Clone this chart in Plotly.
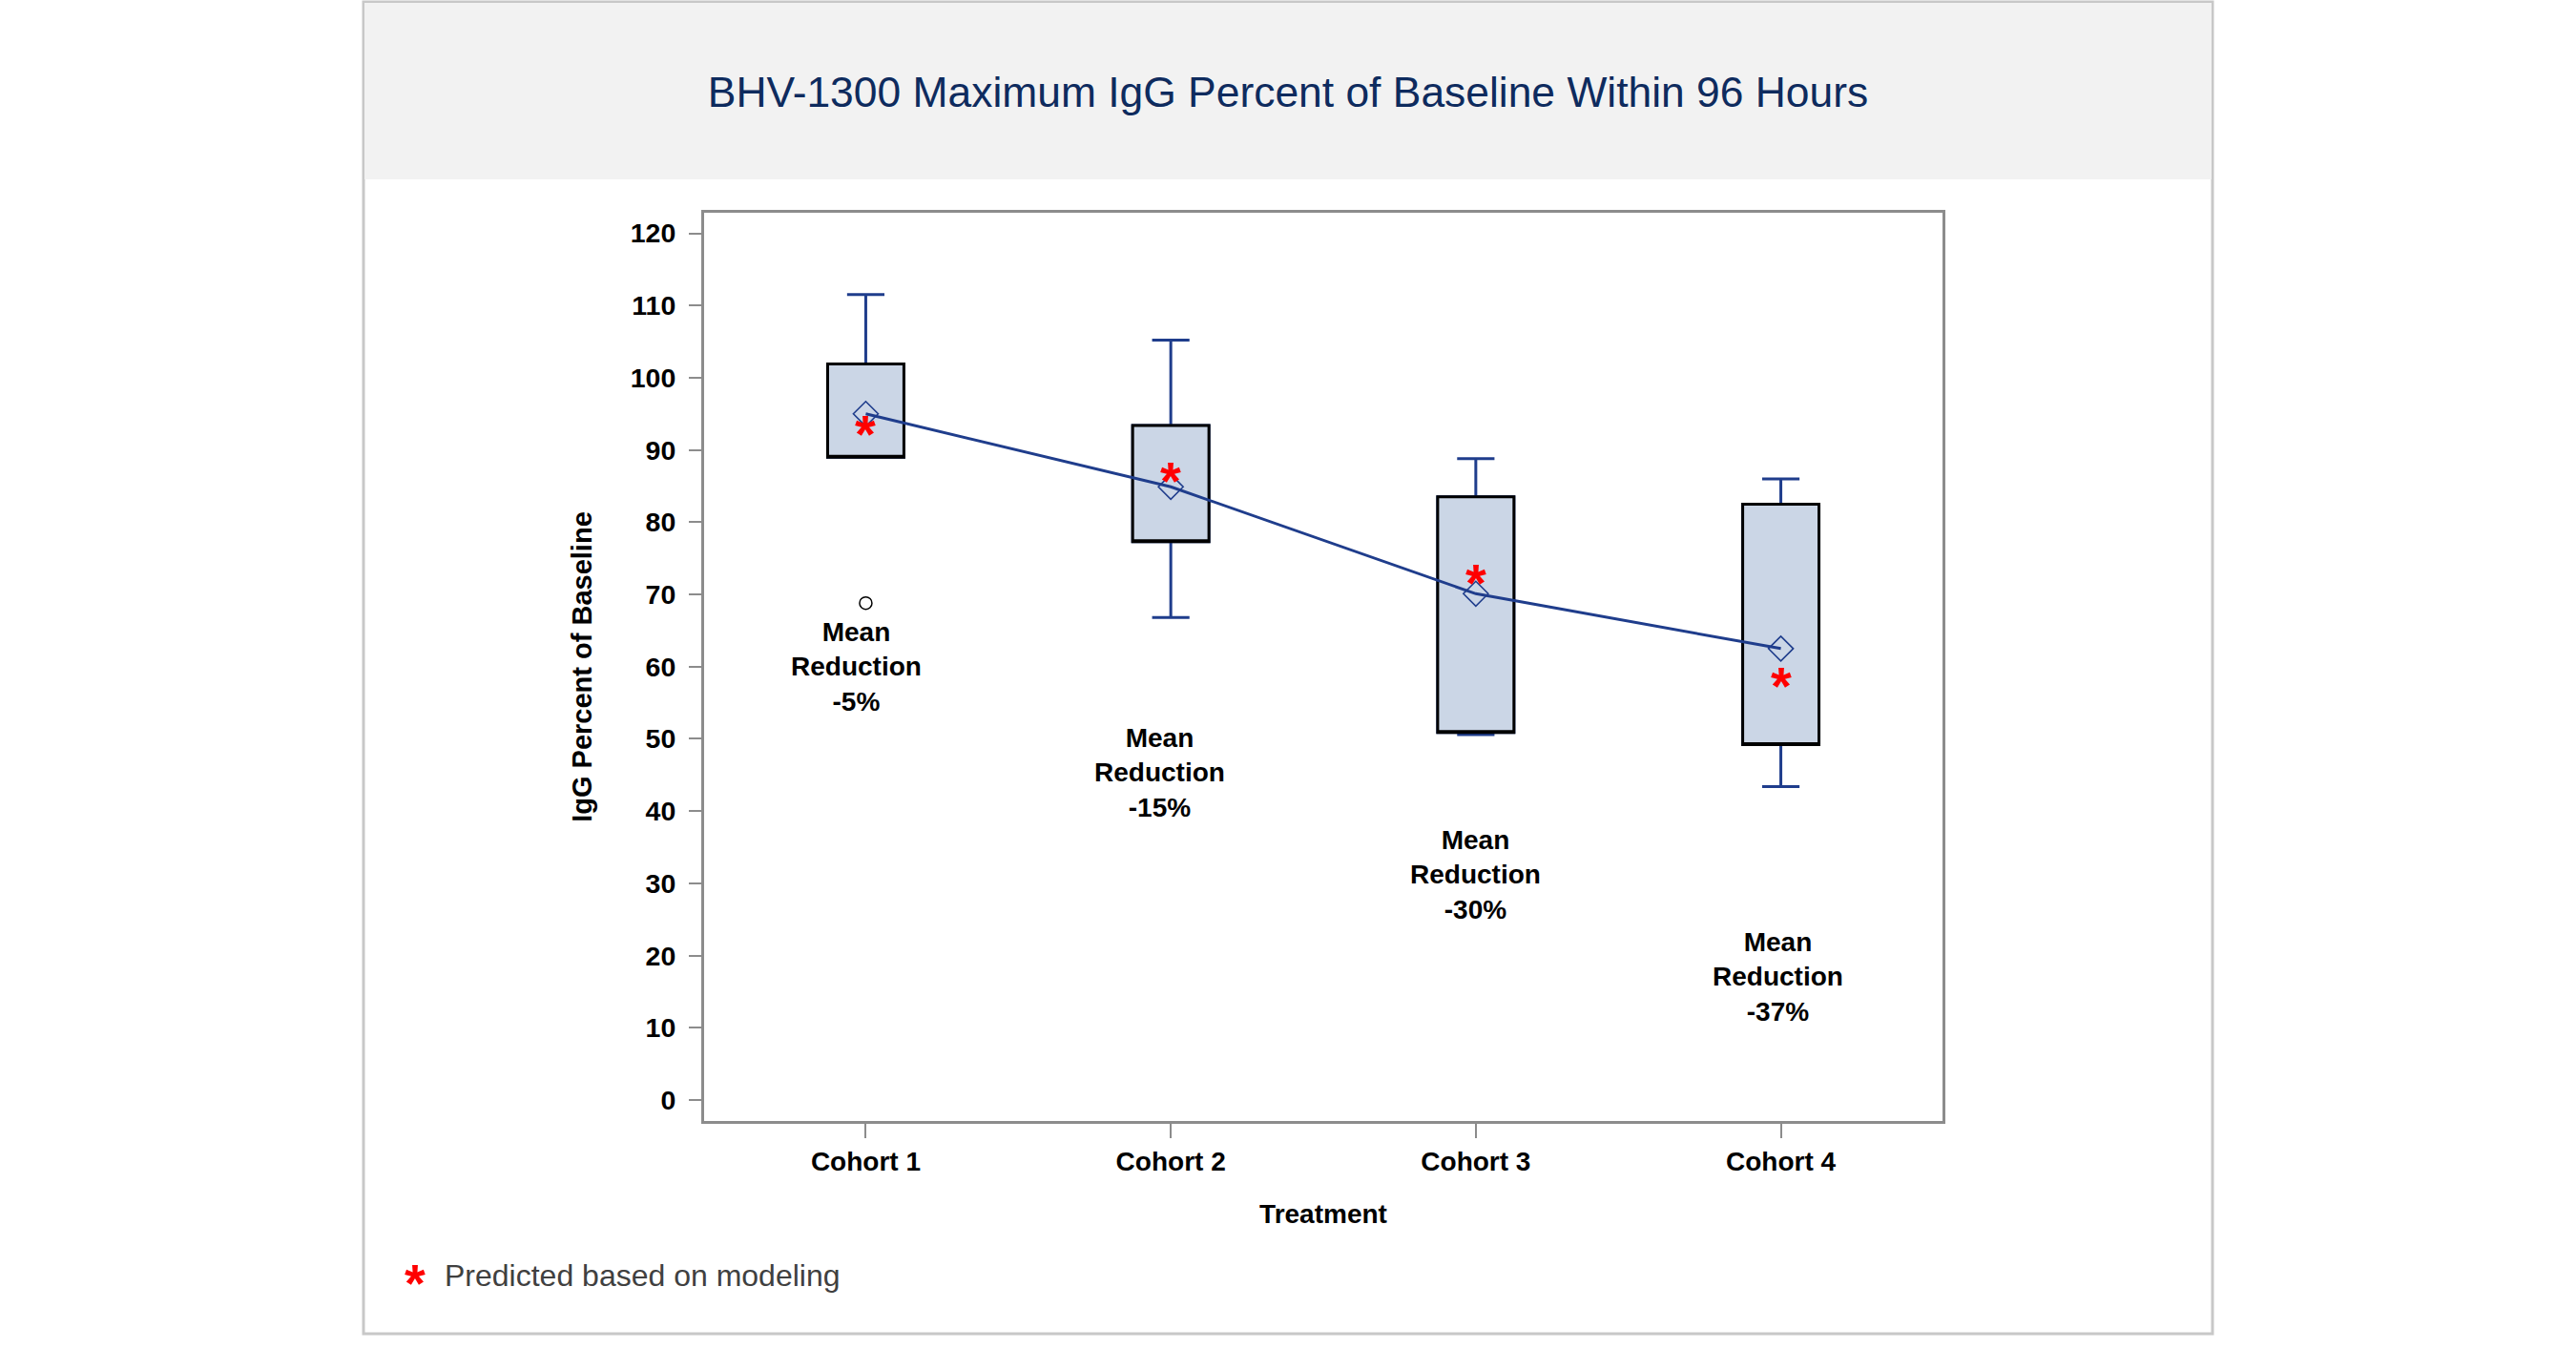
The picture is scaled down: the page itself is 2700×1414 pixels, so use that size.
import plotly.graph_objects as go

# ---------------- data ----------------
cohorts = ["Cohort 1", "Cohort 2", "Cohort 3", "Cohort 4"]
upper_whisker = [111.5, 105.2, 88.8, 86.0]
q3_values = [101.9, 93.4, 83.5, 82.5]
q1_values = [89.0, 77.3, 50.9, 49.2]
lower_whisker = [89.0, 66.8, 50.6, 43.4]
mean_values = [95.0, 84.9, 70.1, 62.5]
predicted_values = [93.2, 86.7, 72.6, 58.3]
outlier_cohorts = ["Cohort 1"]
outlier_values = [68.8]
reduction_labels = ["-5%", "-15%", "-30%", "-37%"]
reduction_label_y = [60.0, 45.3, 31.2, 17.0]
y_ticks = [0, 10, 20, 30, 40, 50, 60, 70, 80, 90, 100, 110, 120]

# ---------------- styles ----------------
FONT = "Liberation Sans, Arial, Helvetica, sans-serif"
NAVY = "#1f3d8c"
BOX_FILL = "#cbd6e6"
AXIS_GRAY = "#8c8c8c"
label_xshift = [-10, -12, 0, -3]
STAR_SIZE = 56
STAR_SHIFT = -7

# plot area in pixels: x 738-2036, y 223-1175
W, H = 2700, 1414
L, R, T, B = 738, 2036, 223, 1175
pw, ph = R - L, B - T


def px_x(p):
    return (p - L) / pw


def px_y(p):
    return (B - p) / ph


fig = go.Figure()

# whiskers (blue)
fig.add_trace(go.Box(
    x=cohorts, q1=q1_values, median=q1_values, q3=q3_values,
    lowerfence=lower_whisker, upperfence=upper_whisker,
    width=0.25, whiskerwidth=0.49,
    line=dict(color=NAVY, width=3), fillcolor="rgba(0,0,0,0)",
    boxpoints=False, hoverinfo="skip", showlegend=False,
))
# boxes (black outline)
fig.add_trace(go.Box(
    x=cohorts, q1=q1_values, median=q1_values, q3=q3_values,
    lowerfence=q1_values, upperfence=q3_values,
    width=0.25, whiskerwidth=0,
    line=dict(color="black", width=3), fillcolor=BOX_FILL,
    boxpoints=False, hoverinfo="skip", showlegend=False,
))
# mean line with diamonds
fig.add_trace(go.Scatter(
    x=cohorts, y=mean_values, mode="lines+markers",
    line=dict(color=NAVY, width=3),
    marker=dict(symbol="diamond-open", size=20, color=NAVY, line=dict(width=1.6, color=NAVY)),
    showlegend=False,
))
# outlier
fig.add_trace(go.Scatter(
    x=outlier_cohorts, y=outlier_values, mode="markers",
    marker=dict(symbol="circle-open", size=13, color="black", line=dict(width=1.5, color="black")),
    showlegend=False,
))

annotations = []
# predicted stars
for c, v in zip(cohorts, predicted_values):
    annotations.append(dict(
        x=c, y=v, xref="x", yref="y", text="*", showarrow=False,
        font=dict(family=FONT, size=STAR_SIZE, color="#ff0000", weight="bold"),
        xanchor="center", yanchor="middle", yshift=STAR_SHIFT,
    ))
# mean reduction labels
for c, lab, yv, xs in zip(cohorts, reduction_labels, reduction_label_y, label_xshift):
    annotations.append(dict(
        x=c, y=yv, xref="x", yref="y", text="Mean<br>Reduction<br>" + lab,
        showarrow=False, xshift=xs,
        font=dict(family=FONT, size=28, color="black", weight="bold"),
        xanchor="center", yanchor="middle", align="center",
    ))
# footnote legend
annotations.append(dict(
    x=px_x(435), y=px_y(1337), xref="paper", yref="paper", text="*", showarrow=False,
    font=dict(family=FONT, size=STAR_SIZE, color="#ff0000", weight="bold"),
    xanchor="center", yanchor="middle", yshift=STAR_SHIFT,
))
annotations.append(dict(
    x=px_x(464), y=px_y(1337), xref="paper", yref="paper",
    text="Predicted based on modeling", showarrow=False,
    font=dict(family=FONT, size=32, color="#404040"),
    xanchor="left", yanchor="middle",
))

shapes = [
    # outer frame
    dict(type="rect", xref="paper", yref="paper",
         x0=px_x(381), x1=px_x(2319), y0=px_y(1398), y1=px_y(2),
         line=dict(color="#c8c8c8", width=3), fillcolor="white", layer="below"),
    # header band
    dict(type="rect", xref="paper", yref="paper",
         x0=px_x(382), x1=px_x(2318), y0=px_y(188), y1=px_y(3),
         line=dict(width=0), fillcolor="#f2f2f2", layer="below"),
]

fig.update_layout(
    width=W, height=H,
    margin=dict(l=L, r=W - R, t=T, b=H - B),
    paper_bgcolor="white", plot_bgcolor="white",
    boxmode="overlay",
    showlegend=False,
    title=dict(
        text="BHV-1300 Maximum IgG Percent of Baseline Within 96 Hours",
        x=1350 / W, xanchor="center", y=1 - 96 / H, yanchor="middle",
        xref="container", yref="container",
        font=dict(family=FONT, size=44.4, color="#0e2b5e"),
    ),
    xaxis=dict(
        type="category", categoryorder="array", categoryarray=cohorts,
        range=[-0.53, 3.53],
        showline=True, linecolor=AXIS_GRAY, linewidth=3, mirror=True,
        ticks="outside", ticklen=15, tickwidth=2, tickcolor=AXIS_GRAY,
        showgrid=False, zeroline=False,
        tickfont=dict(family=FONT, size=28, color="black", weight="bold"),
        title=dict(text="Treatment", standoff=31,
                   font=dict(family=FONT, size=28, color="black", weight="bold")),
    ),
    yaxis=dict(
        range=[-2.9, 122.84], tickvals=y_ticks,
        showline=True, linecolor=AXIS_GRAY, linewidth=3, mirror=True,
        ticks="outside", ticklen=13, tickwidth=2, tickcolor=AXIS_GRAY,
        showgrid=False, zeroline=False, ticklabelstandoff=8,
        tickfont=dict(family=FONT, size=28.5, color="black", weight="bold"),
        title=dict(text="IgG Percent of Baseline", standoff=32,
                   font=dict(family=FONT, size=29, color="black", weight="bold")),
    ),
    annotations=annotations,
    shapes=shapes,
)

fig.write_html("out.html")
